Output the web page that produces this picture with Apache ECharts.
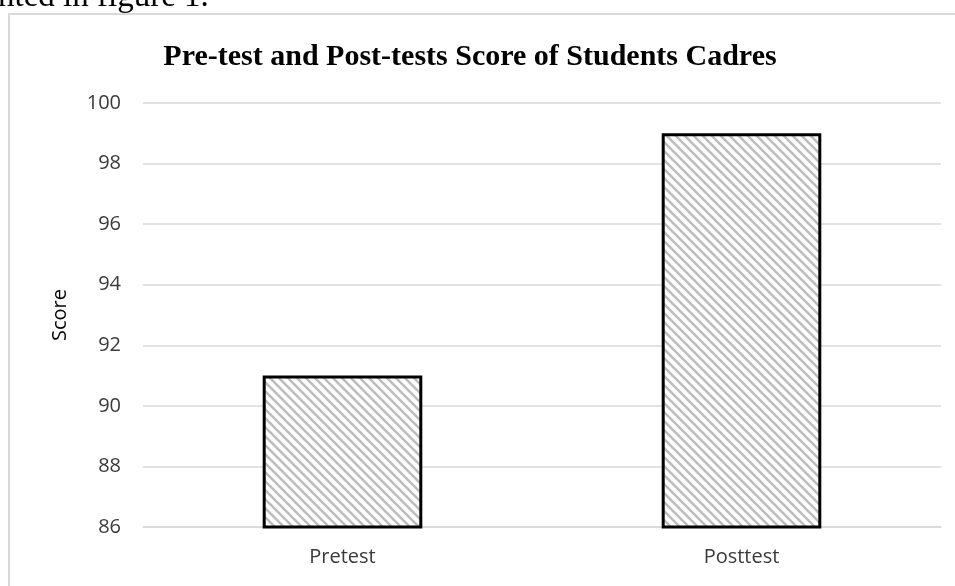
<!DOCTYPE html>
<html>
<head>
<meta charset="utf-8">
<script src="https://cdn.jsdelivr.net/npm/echarts@6/dist/echarts.min.js"></script>
<style>
  html, body { margin: 0; padding: 0; background: #fff; }
  #chart { width: 955px; height: 586px; }
</style>
</head>
<body>
<div id="chart"></div>
<script>
// data
const categories = ['Pretest', 'Posttest'];
const scores = [91, 99];
const yTicks = [86, 88, 90, 92, 94, 96, 98, 100];

// diagonal hatch fill for the bars
function hatch() {
    const s = 9;
    const c = document.createElement('canvas');
    c.width = s; c.height = s;
    const ctx = c.getContext('2d');
    ctx.fillStyle = '#fff';
    ctx.fillRect(0, 0, s, s);
    ctx.strokeStyle = '#bdbdbd';
    ctx.lineWidth = 2.6;
    ctx.beginPath();
    ctx.moveTo(-2, -2); ctx.lineTo(s + 2, s + 2);
    ctx.moveTo(-2, s - 2); ctx.lineTo(2, s + 2);
    ctx.moveTo(s - 2, -2); ctx.lineTo(s + 2, 2);
    ctx.stroke();
    return c;
}

const labelFont = { fontFamily: 'Open Sans', fontSize: 20, color: '#3a3a3a' };

const chart = echarts.init(document.getElementById('chart'));
const option = {
    animation: false,
    title: {
        text: 'Pre-test and Post-tests Score of Students Cadres',
        left: 465,
        textAlign: 'center',
        top: 37,
        textStyle: {
            fontFamily: 'Liberation Serif',
            fontWeight: 'bold',
            fontSize: 30,
            color: '#000'
        }
    },
    graphic: [
        {
            type: 'rect',
            shape: { x: 9, y: 14, width: 1000, height: 600 },
            style: { fill: 'none', stroke: '#d9d9d9', lineWidth: 2 },
            silent: true
        },
        {
            type: 'text',
            left: -2,
            top: -19,
            style: {
                text: 'nted in figure 1.',
                font: '33px "Liberation Serif"',
                fill: '#000'
            }
        }
    ],
    grid: { left: 143, right: 14, top: 103, bottom: 59 },
    xAxis: {
        type: 'category',
        data: categories,
        axisLine: { lineStyle: { color: '#d9d9d9', width: 1.5 } },
        axisTick: { show: false },
        axisLabel: Object.assign({ margin: 20 }, labelFont)
    },
    yAxis: {
        type: 'value',
        min: yTicks[0],
        max: yTicks[yTicks.length - 1],
        interval: 2,
        name: 'Score',
        nameLocation: 'middle',
        nameGap: 73,
        nameTextStyle: { fontFamily: 'Open Sans', fontSize: 20, color: '#000' },
        axisLine: { show: false },
        axisTick: { show: false },
        splitLine: { lineStyle: { color: '#d9d9d9', width: 1.5 } },
        axisLabel: Object.assign({ margin: 22 }, labelFont)
    },
    series: [{
        type: 'bar',
        data: scores,
        barWidth: '40%',
        itemStyle: {
            color: { image: hatch(), repeat: 'repeat' },
            borderColor: '#000',
            borderWidth: 3
        }
    }]
};
chart.setOption(option);
</script>
</body>
</html>
